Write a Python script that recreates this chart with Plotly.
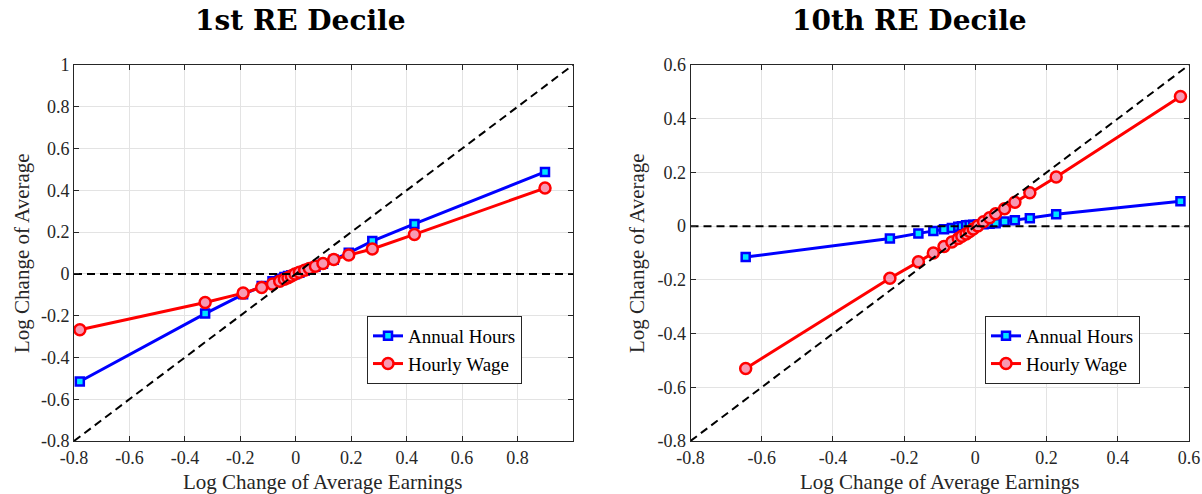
import plotly.graph_objects as go

# ---------------- data ----------------
titles = ["1st RE Decile", "10th RE Decile"]
series_names = ["Annual Hours", "Hourly Wage"]
xlabel = "Log Change of Average Earnings"
ylabel = "Log Change of Average"

# 1st RE decile
x1 = [-0.779, -0.327, -0.190, -0.123, -0.084, -0.058, -0.041, -0.028, -0.016, -0.003,
      0.013, 0.032, 0.049, 0.071, 0.098, 0.137, 0.191, 0.276, 0.428, 0.899]
hours1 = [-0.515, -0.190, -0.098, -0.058, -0.035, -0.023, -0.015, -0.010, -0.006, -0.002,
          0.005, 0.015, 0.023, 0.034, 0.048, 0.068, 0.101, 0.157, 0.239, 0.488]
wage1 = [-0.267, -0.137, -0.092, -0.065, -0.049, -0.035, -0.026, -0.018, -0.010, -0.001,
         0.008, 0.017, 0.026, 0.037, 0.050, 0.069, 0.090, 0.119, 0.189, 0.411]

# 10th RE decile
x2 = [-0.645, -0.240, -0.160, -0.118, -0.088, -0.066, -0.048, -0.038, -0.026, -0.016,
      -0.006, 0.007, 0.023, 0.040, 0.057, 0.082, 0.111, 0.153, 0.227, 0.576]
hours2 = [-0.115, -0.046, -0.027, -0.018, -0.012, -0.007, -0.002, 0.000, 0.003, 0.004,
          0.005, 0.006, 0.007, 0.009, 0.011, 0.017, 0.022, 0.029, 0.044, 0.093]
wage2 = [-0.530, -0.194, -0.133, -0.100, -0.076, -0.059, -0.046, -0.038, -0.029, -0.020,
         -0.011, 0.001, 0.016, 0.031, 0.046, 0.065, 0.089, 0.124, 0.183, 0.483]

xrange1 = [-0.8, 1.0]
yrange1 = [-0.8, 1.0]
xrange2 = [-0.8, 0.6]
yrange2 = [-0.8, 0.6]

xticks1 = [-0.8, -0.6, -0.4, -0.2, 0, 0.2, 0.4, 0.6, 0.8]
yticks1 = [-0.8, -0.6, -0.4, -0.2, 0, 0.2, 0.4, 0.6, 0.8, 1.0]
xticks2 = [-0.8, -0.6, -0.4, -0.2, 0, 0.2, 0.4, 0.6]
yticks2 = [-0.8, -0.6, -0.4, -0.2, 0, 0.2, 0.4, 0.6]

# ---------------- styling ----------------
W, H = 1202, 494
ML, MR, MT, MB = 74, 13, 65, 53
FONT = "Liberation Serif"
TXT = "#262626"
BLUE = "#0000ff"
RED = "#ff0000"


def lab(v):
    return f"{round(v, 1):g}"


fig = go.Figure()

panels = [
    (x1, hours1, wage1, xrange1, yrange1, "x", "y", "legend"),
    (x2, hours2, wage2, xrange2, yrange2, "x2", "y2", "legend2"),
]

for xs, hs, ws, xr, yr, xa, ya, lg in panels:
    fig.add_trace(go.Scatter(
        x=xs, y=hs, mode="lines+markers", name=series_names[0],
        line=dict(color=BLUE, width=3),
        marker=dict(symbol="square", size=8, color="#00e5ff",
                    line=dict(color=BLUE, width=2.5)),
        xaxis=xa, yaxis=ya, legend=lg))
    fig.add_trace(go.Scatter(
        x=xs, y=ws, mode="lines+markers", name=series_names[1],
        line=dict(color=RED, width=3),
        marker=dict(symbol="circle", size=11, color="#f799b3",
                    line=dict(color=RED, width=2.5)),
        xaxis=xa, yaxis=ya, legend=lg))
    # reference lines: zero line and 45-degree line
    fig.add_trace(go.Scatter(
        x=xr, y=[0, 0], mode="lines", showlegend=False,
        line=dict(color="black", width=2, dash="8px,5px"),
        xaxis=xa, yaxis=ya, hoverinfo="skip"))
    fig.add_trace(go.Scatter(
        x=yr, y=yr, mode="lines", showlegend=False,
        line=dict(color="black", width=2, dash="8px,5px"),
        xaxis=xa, yaxis=ya, hoverinfo="skip"))

pw = W - ML - MR
ph = H - MT - MB
dom1 = [0, (573 - ML) / pw]
dom2 = [(690.5 - ML) / pw, 1.0]

common = dict(
    showline=True, linecolor=TXT, linewidth=1, mirror="ticks",
    ticks="inside", ticklen=5, tickcolor=TXT, tickwidth=1,
    showgrid=True, gridcolor="#e3e3e3", gridwidth=1,
    zeroline=False,
    tickfont=dict(family=FONT, size=18, color=TXT),
    fixedrange=True,
)

legend_style = dict(xanchor="left", yanchor="top",
                    bgcolor="white", bordercolor=TXT, borderwidth=1,
                    font=dict(family=FONT, size=19, color="black"),
                    tracegroupgap=0, itemwidth=30)

fig.update_layout(
    width=W, height=H,
    margin=dict(l=ML, r=MR, t=MT, b=MB, autoexpand=False),
    paper_bgcolor="white", plot_bgcolor="white",
    hovermode=False,
    xaxis=dict(domain=dom1, range=xrange1, tickvals=xticks1,
               ticktext=[lab(v) for v in xticks1], anchor="y", **common),
    yaxis=dict(domain=[0, 1], range=yrange1, tickvals=yticks1,
               ticktext=[lab(v) for v in yticks1], anchor="x", **common),
    xaxis2=dict(domain=dom2, range=xrange2, tickvals=xticks2,
                ticktext=[lab(v) for v in xticks2], anchor="y2", **common),
    yaxis2=dict(domain=[0, 1], range=yrange2, tickvals=yticks2,
                ticktext=[lab(v) for v in yticks2], anchor="x2", **common),
    legend=dict(x=(367 - ML) / pw, y=(H - MB - 316) / ph, **legend_style),
    legend2=dict(x=(985 - ML) / pw, y=(H - MB - 316) / ph, **legend_style),
)

ann = []
# panel titles
for t, cx in zip(titles, [300, 909]):
    ann.append(dict(text=f"<b>{t}</b>", xref="paper", yref="paper",
                    x=(cx - ML) / pw, y=1 + (MT - 21) / ph,
                    xanchor="center", yanchor="middle", showarrow=False,
                    font=dict(family="DejaVu Serif", size=28, color="black")))
# x-axis titles
for cx in [323, 940]:
    ann.append(dict(text=xlabel, xref="paper", yref="paper",
                    x=(cx - ML) / pw, y=-(482 - (H - MB)) / ph,
                    xanchor="center", yanchor="middle", showarrow=False,
                    font=dict(family=FONT, size=21, color=TXT)))
# y-axis titles
for cx in [22, 637]:
    ann.append(dict(text=ylabel, xref="paper", yref="paper",
                    x=(cx - ML) / pw, y=0.5, textangle=-90,
                    xanchor="center", yanchor="middle", showarrow=False,
                    font=dict(family=FONT, size=21, color=TXT)))
fig.update_layout(annotations=ann)

fig.write_html("out.html", config={"displayModeBar": False},
               post_script="document.body.style.margin='0';"
                           "document.body.style.padding='0';"
                           "document.body.style.overflow='hidden';")
